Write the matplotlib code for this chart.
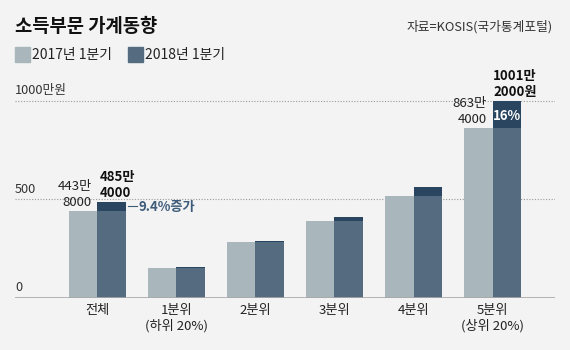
import matplotlib.pyplot as plt
import numpy as np

plt.rcParams["font.family"] = ["Noto Sans CJK KR", "DejaVu Sans"]

categories = ["전체", "1분위\n(하위 20%)", "2분위", "3분위", "4분위", "5분위\n(상위 20%)"]
y2017 = [443.8, 154, 286, 391, 516, 863.4]
y2018 = [485.4, 156, 289, 411, 563, 1001.2]
series_names = ["2017년 1분기", "2018년 1분기"]
yticks = [0, 500, 1000]
ytick_labels = ["0", "500", "1000만원"]

BG = "#f3f3f3"
LIGHT = "#a9b6bb"
DARK = "#546b80"
CAP = "#2a4560"
ACCENT = "#3e5c7a"

fig = plt.figure(figsize=(5.7, 3.5), dpi=100, facecolor=BG)
ax = fig.add_axes([15 / 570, 52 / 350, 540 / 570, 228 / 350], facecolor=BG)

x = np.arange(len(categories))
w = 0.36
a = np.array(y2017)
b = np.array(y2018)
ax.bar(x - w / 2, a, w, color=LIGHT, zorder=3)
ax.bar(x + w / 2, a, w, color=DARK, zorder=3)
# increase over last year drawn as a darker cap
ax.bar(x + w / 2, b - a, w, bottom=a, color=CAP, zorder=3)

ax.set_xlim(-1.044, 5.791)
ax.set_ylim(0, 1157)

for t in yticks[1:]:
    ax.axhline(t, color="#9a9a9a", lw=0.8, ls=(0, (1, 1.5)), zorder=1)
ax.axhline(0, color="#a8a8a8", lw=1.2, zorder=4)
for t, lab in zip(yticks, ytick_labels):
    ax.text(-1.044, t + 18, lab, fontsize=9.2, color="#333333", ha="left", va="bottom")

for s in ax.spines.values():
    s.set_visible(False)
ax.set_xticks([])
ax.set_yticks([])

for i, c in enumerate(categories):
    ax.text(x[i], -28, c, ha="center", va="top", fontsize=9.5, color="#222222",
            linespacing=1.2)

# value annotations
ax.text(x[0] - 0.07, a[0] + 10, "443만\n8000", ha="right", va="bottom", fontsize=9.5,
        color="#222222", linespacing=1.25)
ax.text(x[0] + 0.03, b[0] + 10, "485만\n4000", ha="left", va="bottom", fontsize=9.5,
        fontweight="bold", color="#111111", linespacing=1.2)
ax.plot([x[0] + w + 0.02, x[0] + w + 0.14], [b[0] - 20, b[0] - 20], color=ACCENT, lw=0.8)
ax.text(x[0] + w + 0.16, b[0] - 22, "9.4%증가", ha="left", va="center", fontsize=9.5,
        fontweight="bold", color=ACCENT)

ax.text(x[5] - 0.07, a[5] + 10, "863만\n4000", ha="right", va="bottom", fontsize=9.5,
        color="#222222", linespacing=1.25)
ax.text(x[5] + 0.01, b[5] + 10, "1001만\n2000원", ha="left", va="bottom", fontsize=9.5,
        fontweight="bold", color="#111111", linespacing=1.2)
ax.text(x[5] + w / 2, (a[5] + b[5]) / 2 - 8, "16%", ha="center", va="center", fontsize=9.5,
        fontweight="bold", color="white", zorder=5)

# title, source, legend
fig.text(15 / 570, 1 - 27 / 350, "소득부문 가계동향", fontsize=13.5, fontweight="bold",
         color="#111111", va="center", ha="left")
fig.text(553 / 570, 1 - 27 / 350, "자료=KOSIS(국가통계포털)", fontsize=9.2,
         color="#333333", va="center", ha="right")
for lx, col, name in [(15, LIGHT, series_names[0]), (128, DARK, series_names[1])]:
    fig.patches.append(plt.Rectangle((lx / 570, 1 - 62 / 350), 15 / 570, 15 / 350,
                                     transform=fig.transFigure, color=col))
    fig.text((lx + 17) / 570, 1 - 54.5 / 350, name, fontsize=10, color="#222222",
             va="center", ha="left")

fig.savefig("out.png", dpi=100, facecolor=BG)
